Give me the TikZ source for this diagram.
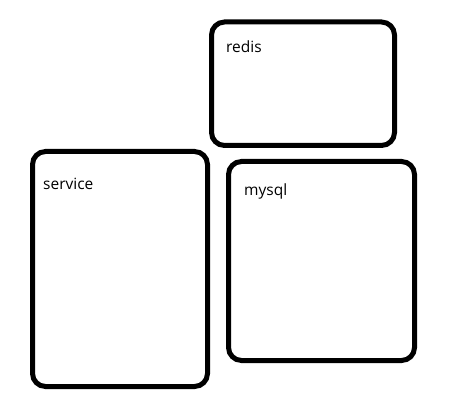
\documentclass[tikz,border=0pt]{standalone}
\usepackage{fontspec}
\setmainfont{Open Sans}
\begin{document}
\begin{tikzpicture}[x=1pt,y=-1pt,
  box/.style={draw=black,line width=5pt,rounded corners=13pt,inner sep=0pt,fill=white},
  lbl/.style={anchor=base west,inner sep=0pt,font=\fontsize{15.5}{18}\selectfont}]
\useasboundingbox[fill=white] (0,0) rectangle (452,403);
\node[box,minimum width=183pt,minimum height=123.5pt] (redis) at (303,83.75) {};
\node[box,minimum width=175pt,minimum height=235pt] (service) at (120,269) {};
\node[box,minimum width=186pt,minimum height=199pt] (mysql) at (321.5,261) {};
\node[lbl] (redislbl) at (226,53) {redis};
\node[lbl] (servicelbl) at (43,190) {service};
\node[lbl] (mysqllbl) at (244,196) {mysql};
\end{tikzpicture}
\end{document}
